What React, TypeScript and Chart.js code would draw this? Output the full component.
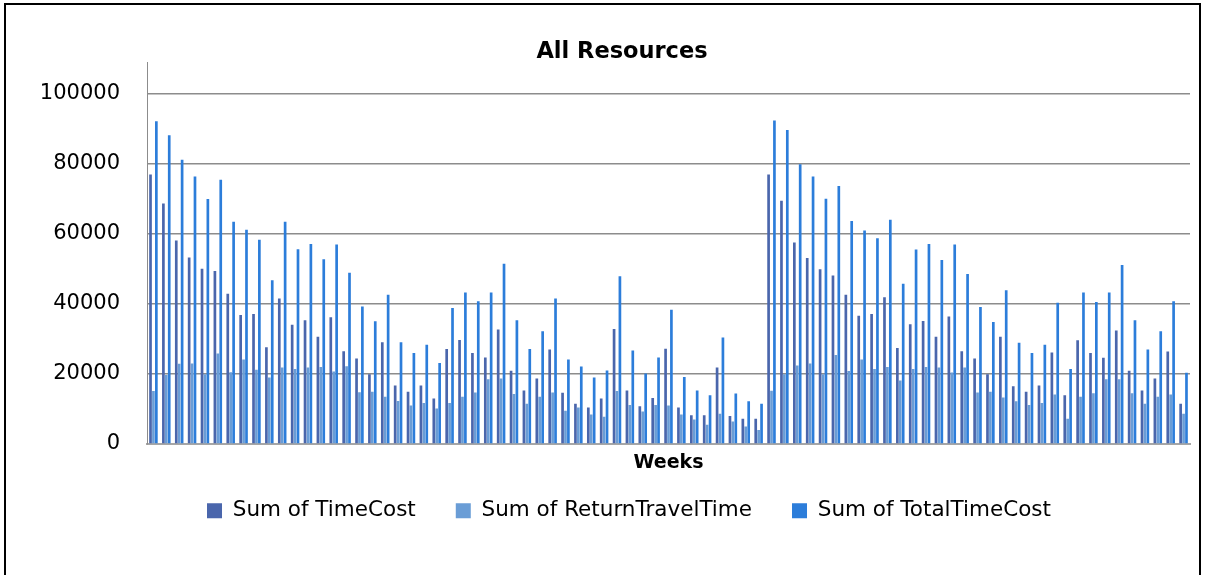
import React, { useEffect, useRef } from "react";
import { Chart, registerables } from "chart.js";

Chart.register(...registerables);

const weeks: string[] = [
  "1", "2", "3", "4", "5", "6", "7", "8", "9", "10",
  "11", "12", "13", "14", "15", "16", "17", "18", "19", "20",
  "21", "22", "23", "24", "25", "26", "27", "28", "29", "30",
  "31", "32", "33", "34", "35", "36", "37", "38", "39", "40",
  "41", "42", "43", "44", "45", "46", "47", "48", "49", "50",
  "51", "52", "53", "54", "55", "56", "57", "58", "59", "60",
  "61", "62", "63", "64", "65", "66", "67", "68", "69", "70",
  "71", "72", "73", "74", "75", "76", "77", "78", "79", "80",
  "81",
];

const timeCost: number[] = [
  76900, 68600, 58100, 53200, 50000, 49400, 42900, 36800, 37100, 27600,
  41500, 34000, 35300, 30600, 36200, 26500, 24400, 19900, 29000, 16700,
  14900, 16700, 13000, 27100, 29700, 26000, 24700, 32700, 20900, 15300,
  18700, 27000, 14600, 11500, 10400, 13000, 32800, 15300, 10800, 13100,
  27200, 10400, 8200, 8200, 21800, 8000, 7200, 7200,
  76900, 69400, 57500, 53100, 49900, 48100, 42600, 36600, 37100, 41900,
  27400, 34200, 35100, 30600, 36400, 26500, 24400, 19900, 30600, 16500,
  14900, 16700, 26100, 13900, 29600, 26000, 24600, 32400, 20900, 15300,
  18700, 26400, 11500,
];

const returnTravelTime: number[] = [
  15100, 19700, 22900, 23000, 19900, 25800, 20500, 24100, 21200, 19000,
  21800, 21400, 21800, 22000, 20700, 22200, 14800, 14900, 13500, 12300,
  11000, 11700, 10100, 11700, 13500, 14700, 18500, 18700, 14300, 11500,
  13500, 14700, 9500, 10400, 8400, 7800, 15100, 11100, 9300, 11100,
  11000, 8400, 7000, 5500, 8600, 6400, 5000, 4000,
  15200, 19900, 22400, 23000, 19900, 25400, 20800, 24100, 21400, 22000,
  18100, 21400, 22000, 21800, 20400, 21800, 14700, 14900, 13300, 12200,
  11100, 11700, 14100, 7200, 13500, 14500, 18500, 18500, 14500, 11500,
  13500, 14100, 8600,
];

const totalTimeCost: number[] = [
  92100, 88100, 81100, 76300, 69900, 75400, 63400, 61100, 58300, 46700,
  63400, 55600, 57100, 52700, 56900, 48900, 39200, 35000, 42600, 29000,
  26000, 28300, 23100, 38800, 43200, 40700, 43200, 51400, 35300, 27100,
  32200, 41500, 24100, 22100, 19000, 21000, 47900, 26700, 20100, 24700,
  38300, 19100, 15300, 13900, 30400, 14400, 12200, 11500,
  92300, 89600, 79800, 76300, 70000, 73600, 63600, 60900, 58700, 64000,
  45700, 55500, 57100, 52500, 56900, 48500, 39100, 34800, 43900, 28900,
  26000, 28300, 40300, 21400, 43200, 40500, 43200, 51100, 35300, 27000,
  32200, 40700, 20300,
];

const yTickValues: number[] = [0, 20000, 40000, 60000, 80000, 100000];

const seriesNames: string[] = [
  "Sum of TimeCost",
  "Sum of ReturnTravelTime",
  "Sum of TotalTimeCost",
];

const FONT = "'DejaVu Sans', Verdana, sans-serif";

const framePlugin = {
  id: "frame",
  afterLayout(chart: any) {
    if (chart.titleBlock) {
      chart.titleBlock.left += 9;
      chart.titleBlock.right += 9;
    }
    if (chart.legend) {
      chart.legend.left += 16;
      chart.legend.right += 16;
    }
  },
  afterDraw(chart: any) {
    const ctx = chart.ctx;
    ctx.save();
    ctx.strokeStyle = "#000";
    ctx.lineWidth = 2;
    ctx.strokeRect(5, 4, 1195, 700);
    ctx.restore();
  },
};

export default function App() {
  const ref = useRef<HTMLCanvasElement | null>(null);

  useEffect(() => {
    if (!ref.current) return;
    const chart = new Chart(ref.current, {
      type: "bar",
      data: {
        labels: weeks,
        datasets: [
          {
            label: seriesNames[0],
            data: timeCost,
            backgroundColor: "#4A66AC",
            borderWidth: 0,
          },
          {
            label: seriesNames[1],
            data: returnTravelTime,
            backgroundColor: "#6A9DD6",
            borderWidth: 0,
          },
          {
            label: seriesNames[2],
            data: totalTimeCost,
            backgroundColor: "#2C7DDA",
            borderWidth: 0,
          },
        ],
      },
      options: {
        animation: false,
        responsive: false,
        layout: { padding: { left: 36, right: 15, top: 0, bottom: 43.5 } },
        datasets: {
          bar: { categoryPercentage: 0.68, barPercentage: 0.92 },
        },
        scales: {
          x: {
            grid: { display: false, drawTicks: false },
            border: { display: true, color: "#A6A6A6", width: 2 },
            ticks: { display: false },
            title: {
              display: true,
              text: "Weeks",
              color: "#000",
              font: { family: FONT, size: 19, weight: "bold", lineHeight: 1 },
              padding: { top: 0, bottom: -13 },
            },
            afterFit(scale: any) {
              scale.height = 16;
            },
          },
          y: {
            min: 0,
            max: 108860,
            grid: { color: "#8C8C8C", lineWidth: 1.5, drawTicks: false },
            border: { display: true, color: "#8C8C8C", width: 1 },
            ticks: {
              includeBounds: false,
              stepSize: 20000,
              padding: 27,
              color: "#000",
              font: { family: FONT, size: 21 },
              callback: (v: any) => String(v),
            },
            afterBuildTicks(scale: any) {
              scale.ticks = yTickValues.map((v) => ({ value: v }));
            },
            afterFit(scale: any) {
              scale.width = 111;
            },
          },
        },
        plugins: {
          title: {
            display: true,
            text: "All Resources",
            color: "#000",
            font: { family: FONT, size: 22.5, weight: "bold", lineHeight: 1 },
            padding: { top: 40.5, bottom: -0.5 },
          },
          legend: {
            position: "bottom",
            labels: {
              color: "#000",
              font: { family: FONT, size: 21.5 },
              boxWidth: 15,
              boxHeight: 15,
              padding: 40,
            },
          },
          tooltip: { enabled: false },
        },
      },
      plugins: [framePlugin],
    });
    return () => chart.destroy();
  }, []);

  return (
    <div style={{ position: "absolute", left: 0, top: 0, width: 1205, height: 575, background: "#fff" }}>
      <canvas ref={ref} width={1205} height={575} style={{ width: 1205, height: 575 }} />
    </div>
  );
}
